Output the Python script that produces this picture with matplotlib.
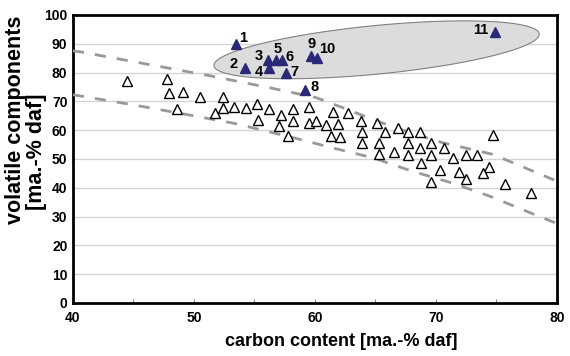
import numpy as np
import matplotlib
matplotlib.use("Agg")
import matplotlib.pyplot as plt

# open triangles: carbon content / volatile components
coal_c = [44.5, 47.8, 47.9, 49.1, 50.5, 52.4, 48.6, 51.7, 52.4, 53.3,
          54.3, 55.2, 56.2, 57.2, 58.2, 59.5, 61.5, 62.7, 55.3, 57.0,
          58.2, 59.5, 60.1, 60.9, 61.9, 63.8, 65.1, 57.8, 61.3, 62.1,
          63.9, 65.8, 66.9, 67.7, 68.7, 74.7, 63.9, 65.3, 67.7, 68.7,
          69.6, 70.7, 65.3, 66.5, 67.7, 69.6, 71.4, 72.5, 73.4, 68.8,
          70.3, 71.9, 74.4, 73.9, 72.5, 69.6, 75.7, 77.9]
coal_v = [77.1, 77.7, 73.0, 73.3, 71.4, 71.6, 67.5, 66.1, 67.6, 68.2,
          67.6, 69.0, 67.5, 65.1, 67.5, 68.2, 66.2, 65.9, 63.4, 61.6,
          63.3, 62.5, 63.3, 61.8, 62.0, 63.3, 62.4, 57.8, 58.1, 57.6,
          59.3, 59.3, 60.8, 59.2, 59.2, 58.2, 55.4, 55.6, 55.5, 53.7,
          55.5, 53.9, 51.6, 52.3, 51.3, 51.3, 50.5, 51.3, 51.3, 48.7,
          46.1, 45.3, 47.2, 45.1, 43.1, 41.9, 41.4, 38.2]

# filled triangles, numbered samples 1..11
sample_ids = ["1", "2", "3", "4", "5", "6", "7", "8", "9", "10", "11"]
sample_c = [53.5, 54.2, 56.1, 56.2, 56.8, 57.3, 57.6, 59.2, 59.7, 60.2, 74.9]
sample_v = [89.9, 81.6, 84.4, 81.5, 84.4, 84.4, 79.7, 73.9, 85.8, 85.0, 94.2]

# dashed band boundaries
upper_c = [40.0, 40.6, 51.3, 56.5, 60.1, 62.3, 65.1, 67.9, 70.6, 74.7, 78.0, 80.0]
upper_v = [87.5, 87.2, 78.9, 74.5, 71.3, 67.8, 63.2, 59.1, 55.6, 51.6, 45.8, 42.3]
lower_c = [40.0, 45.1, 50.1, 53.4, 58.2, 61.4, 64.8, 68.0, 71.3, 74.5, 77.8, 80.0]
lower_v = [72.3, 68.7, 64.9, 62.3, 57.4, 53.9, 50.4, 45.8, 41.7, 37.0, 31.3, 27.6]

# label offsets (pixels)
offsets = [(7, 6), (-11, 4), (-9, 4), (-10, -4), (1, 11), (7, 3),
           (9, 1), (9, 3), (0, 12), (10, 9), (-14, 2)]

plt.rcParams['font.family'] = ['Liberation Sans', 'DejaVu Sans']
fig = plt.figure(figsize=(5.7, 3.56), dpi=100)
ax = fig.add_axes([0.128, 0.149, 0.849, 0.809])

# grey ellipse around the numbered samples
t = np.linspace(0, 2 * np.pi, 200)
ex = 65.1 + 13.44 * np.cos(t) + 0.19 * np.sin(t)
ey = 87.9 + 5.52 * np.cos(t) - 8.39 * np.sin(t)
ax.fill(ex, ey, facecolor="#dcdcdc", edgecolor="#808080", lw=0.8, zorder=2)

for y in range(10, 100, 10):
    ax.axhline(y, color="#d4d4d4", lw=1.0, zorder=1)

ax.plot(upper_c, upper_v, ls=(0, (4, 4)), color="#999999", lw=2, zorder=3)
ax.plot(lower_c, lower_v, ls=(0, (4, 4)), color="#999999", lw=2, zorder=3)

ax.plot(coal_c, coal_v, ls="none", marker="^", ms=7.5, mfc="white",
        mec="black", mew=1.0, zorder=4)
ax.plot(sample_c, sample_v, ls="none", marker="^", ms=6.5, mfc="#2b2878",
        mec="#2b2878", zorder=5)
for lab, xc, yc, off in zip(sample_ids, sample_c, sample_v, offsets):
    ax.annotate(lab, (xc, yc), xytext=off, textcoords="offset pixels",
                ha="center", va="center", fontsize=10.5, fontweight="bold",
                zorder=6)

ax.set_xlim(40, 80)
ax.set_ylim(0, 100)
ax.set_xticks(range(40, 81, 10))
ax.set_xticks(range(45, 80, 10), minor=True)
ax.set_yticks(range(0, 101, 10))
ax.tick_params(axis="x", which="both", direction="in", length=3, width=0.8,
               color="#888888", pad=6)
ax.tick_params(axis="y", length=0, pad=4)
for lbl in ax.get_xticklabels() + ax.get_yticklabels():
    lbl.set_fontweight("bold")
    lbl.set_fontsize(10)
for s in ax.spines.values():
    s.set_linewidth(2)
    s.set_color("black")

fig.text(341 / 570, 1 - 341 / 356, "carbon content [ma.-% daf]",
         ha="center", va="center", fontsize=13, fontweight="bold")
fig.text(16 / 570, 1 - 120 / 356, "volatile components", rotation=90,
         ha="center", va="center", fontsize=15.5, fontweight="bold")
fig.text(37 / 570, 1 - 152 / 356, "[ma.-% daf]", rotation=90,
         ha="center", va="center", fontsize=15.5, fontweight="bold")

fig.savefig("out.png", dpi=100)
